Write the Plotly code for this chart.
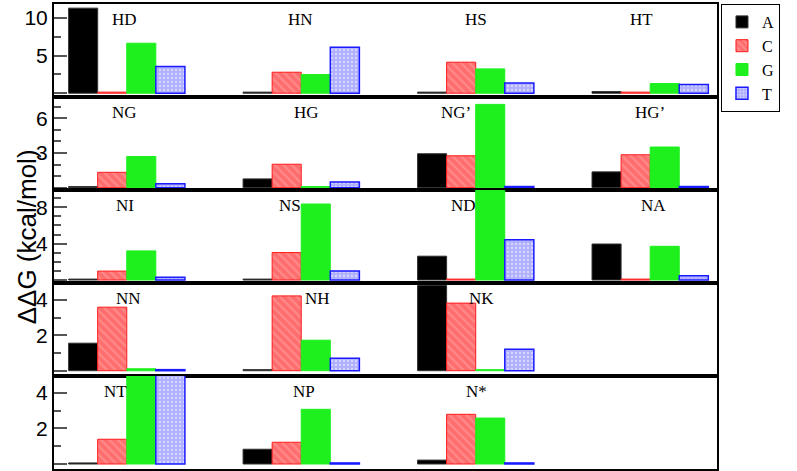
import plotly.graph_objects as go
from plotly.subplots import make_subplots

# ---- data ----
bases = ["A", "C", "G", "T"]

row1_labels = ["HD", "HN", "HS", "HT"]
row1_A = [11.3, 0.15, 0.15, 0.22]
row1_C = [0.15, 2.79, 4.12, 0.15]
row1_G = [6.64, 2.48, 3.23, 1.29]
row1_T = [3.54, 6.11, 1.37, 1.15]

row2_labels = ["NG", "HG", "NG\u2019", "HG\u2019"]
row2_A = [0.1, 0.76, 2.94, 1.37]
row2_C = [1.33, 2.03, 2.76, 2.85]
row2_G = [2.70, 0.1, 7.21, 3.52]
row2_T = [0.35, 0.5, 0.1, 0.1]

row3_labels = ["NI", "NS", "ND", "NA"]
row3_A = [0.1, 0.1, 2.62, 3.96]
row3_C = [0.98, 3.02, 0.1, 0.1]
row3_G = [3.2, 8.36, 11.0, 3.71]
row3_T = [0.3, 1.0, 4.43, 0.47]

row4_labels = ["NN", "NH", "NK"]
row4_A = [1.56, 0.06, 4.83]
row4_C = [3.6, 4.24, 3.83]
row4_G = [0.11, 1.73, 0.06]
row4_T = [0.06, 0.7, 1.22]

row5_labels = ["NT", "NP", "N*"]
row5_A = [0.06, 0.83, 0.22]
row5_C = [1.39, 1.22, 2.79]
row5_G = [6.0, 3.07, 2.58]
row5_T = [6.0, 0.06, 0.06]

y_tickvals = [[0, 5, 10], [0, 3, 6], [0, 4, 8], [0, 2, 4], [0, 2, 4]]
y_ticktext = [["", "5", "10"], ["", "3", "6"], ["", "4", "8"], ["", "2", "4"], ["", "2", "4"]]

# ---- styles ----
y_ranges = [[-0.5, 11.85], [-0.2, 7.85], [-0.33, 9.9], [-0.3, 4.97], [-0.28, 4.94]]
minor_dticks = [2.5, 1, 1, 1, 1]
label_xshift = [[-2, -1, 0, -9], [-2, 5, -20, 0], [-2, -11, -12, 3], [2, 16, 6], [-11, 3, 1]]

rows = [
    (row1_labels, [row1_A, row1_C, row1_G, row1_T]),
    (row2_labels, [row2_A, row2_C, row2_G, row2_T]),
    (row3_labels, [row3_A, row3_C, row3_G, row3_T]),
    (row4_labels, [row4_A, row4_C, row4_G, row4_T]),
    (row5_labels, [row5_A, row5_C, row5_G, row5_T]),
]

styles = {
    "A": dict(color="black", line=dict(color="#333333", width=1)),
    "C": dict(color="#ff7d7d", line=dict(color="#ff1a1a", width=1),
              pattern=dict(shape="\\", fgcolor="#ffa8a8", bgcolor="#ff6e6e", size=6, solidity=0.35)),
    "G": dict(color="#1ef01e", line=dict(color="#1ef01e", width=1)),
    "T": dict(color="#b9b9ff", line=dict(color="#1a1aff", width=1.5),
              pattern=dict(shape=".", fgcolor="#ffffff", bgcolor="#b0b0ff", size=4, solidity=0.25)),
}

fig = make_subplots(rows=5, cols=1, shared_xaxes=False, vertical_spacing=0)

for r, (labels, series) in enumerate(rows, start=1):
    for b, vals in zip(bases, series):
        fig.add_trace(
            go.Bar(x=labels, y=vals, name=b, marker=styles[b],
                   legendgroup=b, showlegend=(r == 1)),
            row=r, col=1)
    xref = "x" if r == 1 else f"x{r}"
    yref = "y domain" if r == 1 else f"y{r} domain"
    for lab, dx in zip(labels, label_xshift[r - 1]):
        fig.add_annotation(x=lab, y=1, xref=xref, yref=yref, text=lab,
                           showarrow=False, xshift=dx, yshift=-15.5,
                           yanchor="middle",
                           font=dict(family="Liberation Serif", size=17, color="black"))

for r in range(1, 6):
    fig.update_xaxes(row=r, col=1, type="category", range=[-0.417, 3.383],
                     showticklabels=False, ticks="", showgrid=False, zeroline=False,
                     showline=True, mirror=True, linecolor="black", linewidth=2)
    fig.update_yaxes(row=r, col=1, range=y_ranges[r - 1],
                     tickmode="array", tickvals=y_tickvals[r - 1], ticktext=y_ticktext[r - 1],
                     ticks="inside", ticklen=13, tickwidth=1.5, tickcolor="#555555",
                     minor=dict(ticks="inside", ticklen=7, tickwidth=1.5, tickcolor="#555555",
                                dtick=minor_dticks[r - 1], tick0=0),
                     tickfont=dict(family="Liberation Sans", size=21, color="black"),
                     showgrid=False, zeroline=False,
                     showline=True, mirror=True, linecolor="black", linewidth=2)

fig.add_annotation(text="\u0394\u0394G (kcal/mol)", xref="paper", yref="paper",
                   x=-0.041, y=0.5, textangle=-90, showarrow=False,
                   xanchor="center", yanchor="middle",
                   font=dict(family="Liberation Sans", size=26, color="black"))

fig.update_layout(
    width=797, height=471,
    margin=dict(l=54, r=80, t=2, b=2),
    barmode="group", bargap=1/3, bargroupgap=0,
    plot_bgcolor="white", paper_bgcolor="white",
    legend=dict(x=1.006, y=1, xanchor="left", yanchor="top",
                bordercolor="black", borderwidth=1, bgcolor="white",
                font=dict(family="Liberation Serif", size=16, color="black"),
                itemwidth=30, tracegroupgap=0),
)

fig.write_html("out.html", config={"displayModeBar": False},
               post_script="document.body.style.margin='0px';")
